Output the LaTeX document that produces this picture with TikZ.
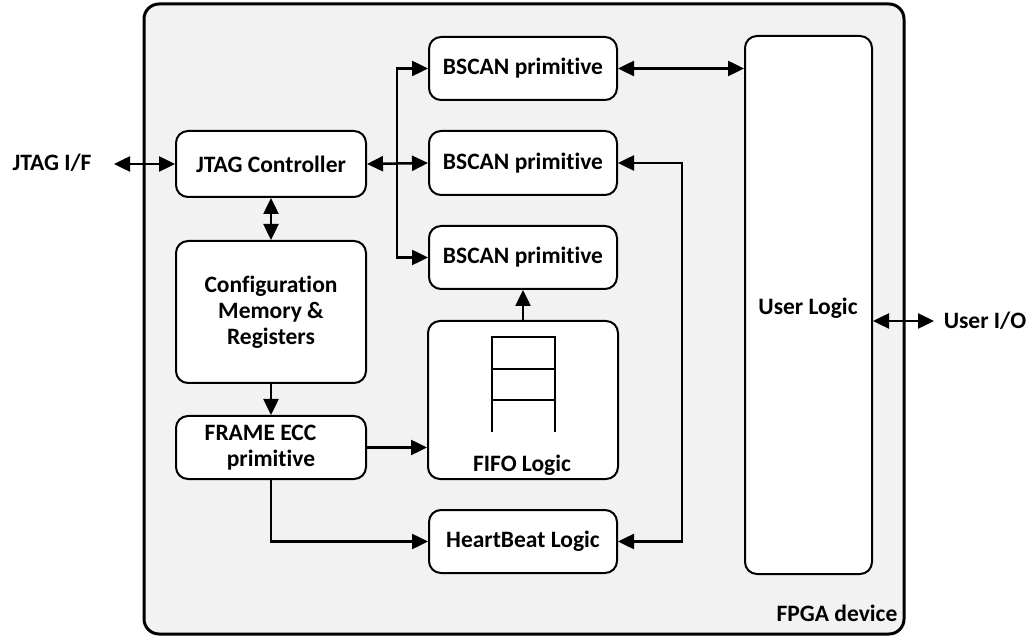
\documentclass[tikz,border=0pt]{standalone}
\usepackage{fontspec}
\setmainfont{Carlito}[Ligatures={NoCommon}]
\usetikzlibrary{arrows.meta}
\definecolor{devfill}{HTML}{F2F2F2}
\begin{document}
\begin{tikzpicture}[x=1pt,y=-1pt,
  txt/.style={font=\fontsize{23.5}{26}\selectfont\bfseries, align=center, inner sep=0pt},
  blk/.style={txt, draw=black, fill=white, line width=2pt, rounded corners=12pt},
  dev/.style={draw=black, fill=devfill, line width=3pt, rounded corners=15pt},
  arr/.style={line width=2.5pt, -{Triangle[length=16pt,width=15pt]}},
  dbl/.style={line width=2.5pt, {Triangle[length=16pt,width=15pt]}-{Triangle[length=16pt,width=15pt]}},
  fifoline/.style={line width=1.6pt}]
  \useasboundingbox (0,0) rectangle (1029,636);

  % FPGA device outline
  \node[dev, minimum width=760pt, minimum height=630pt] (fpga) at (524,319) {};
  \node[txt] (fpgalbl) at (837,613) {FPGA device};

  % functional blocks
  \node[blk, minimum width=190pt, minimum height=66pt] (jtag) at (271,164) {JTAG Controller};
  \node[blk, minimum width=190pt, minimum height=142pt] (cfg) at (271,312) {Configuration\\Memory \&\\Registers};
  \node[blk, minimum width=190pt, minimum height=63pt] (ecc) at (271,447.5) {FRAME ECC\hspace*{21pt}\\primitive};
  \node[blk, minimum width=188pt, minimum height=63pt] (b1) at (523,68.5) {BSCAN primitive};
  \node[blk, minimum width=188pt, minimum height=64pt] (b2) at (523,163) {BSCAN primitive};
  \node[blk, minimum width=188pt, minimum height=63pt] (b3) at (523,257.5) {BSCAN primitive};
  \node[blk, minimum width=190pt, minimum height=158pt] (fifo) at (523,400) {};
  \node[txt] (fifolbl) at (522,465) {FIFO Logic};
  \node[blk, minimum width=188pt, minimum height=63pt] (hb) at (523,541.5) {HeartBeat Logic};
  \node[blk, minimum width=127pt, minimum height=538pt] (user) at (808.5,305) {};
  \node[txt] (userlbl) at (808,308) {User Logic};

  % FIFO stack symbol
  \draw[fifoline] (492,432) -- (492,337) -- (555,337) -- (555,432);
  \draw[fifoline] (492,369) -- (555,369);
  \draw[fifoline] (492,400) -- (555,400);

  % external interfaces
  \node[txt] (jtagif) at (52,163) {JTAG I/F};
  \coordinate (jtagend) at (114,164);
  \node[txt] (userio) at (985,321) {User I/O};
  \coordinate (uioend) at (934,321);

  % connectors
  \draw[dbl] (jtagend) -- (jtag.west);
  \draw[dbl] (jtag.east) -- (b2.west);
  \coordinate (fork) at (397,164);
  \draw[arr] (fork) |- (b1.west);
  \draw[arr] (fork) |- (b3.west);
  \draw[dbl] (jtag.south) -- (cfg.north);
  \draw[arr] (cfg.south) -- (ecc.north);
  \draw[arr] (ecc.east) -- (ecc.east -| fifo.west);
  \draw[arr] (ecc.south) |- (hb.west);
  \draw[arr] (fifo.north) -- (b3.south);
  \coordinate (hbturn) at (682,300);
  \draw[dbl] (hb.east) -| (hbturn) |- (b2.east);
  \draw[dbl] (b1.east) -- (b1.east -| user.west);
  \draw[dbl] (uioend -| user.east) -- (uioend);
\end{tikzpicture}
\end{document}
